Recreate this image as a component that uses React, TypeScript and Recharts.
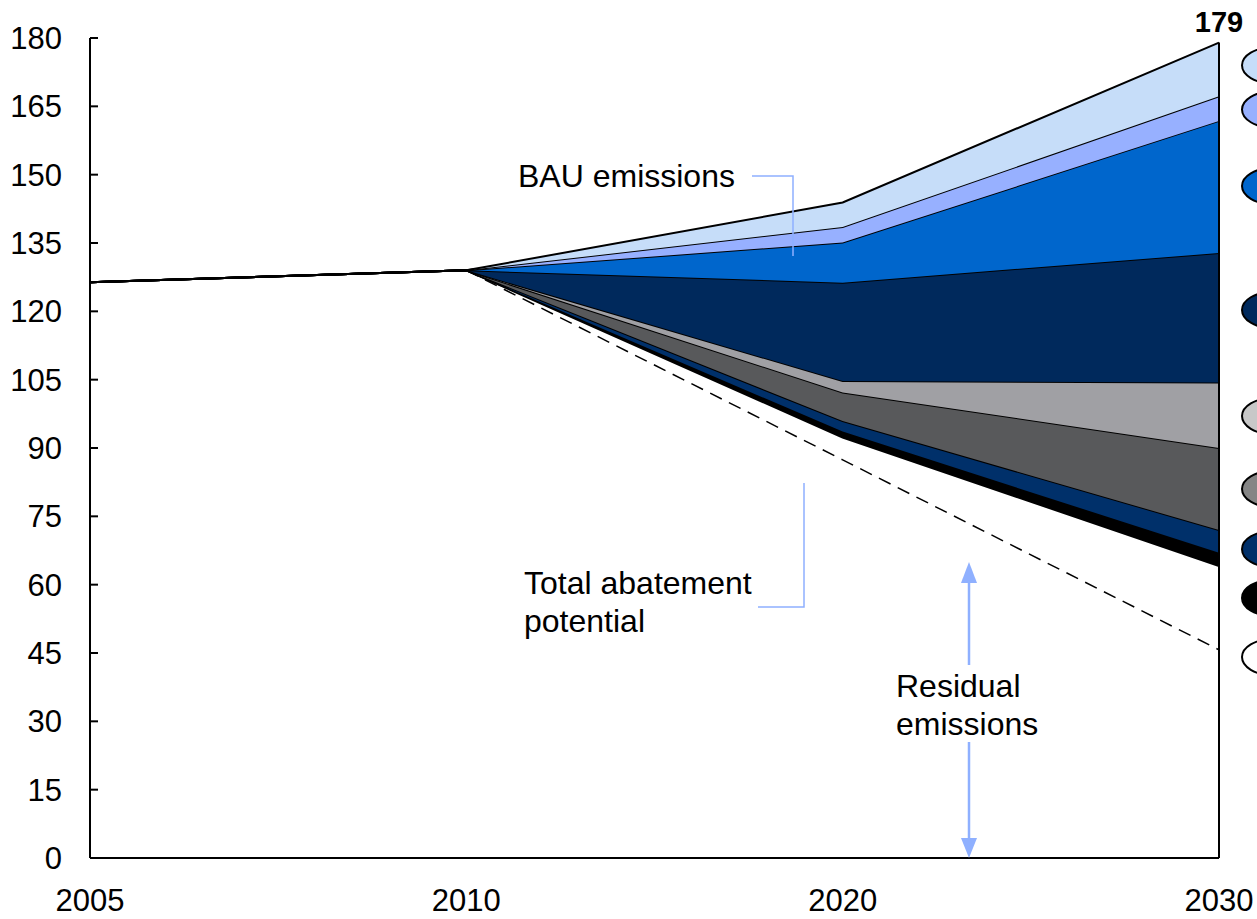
import { ComposedChart, Area, Line, XAxis, YAxis, ReferenceLine, ReferenceDot } from "recharts";

const years = ["2005", "2010", "2020", "2030"];
const residualEmissions = [126.4, 129, 92.3, 64.1];
const wedgeBlack = [0, 0, 1.3, 2.9];
const wedgeNavyLow = [0, 0, 2.3, 5.0];
const wedgeDarkGrey = [0, 0, 6.3, 18.0];
const wedgeLightGrey = [0, 0, 2.5, 14.4];
const wedgeNavy = [0, 0, 21.6, 28.4];
const wedgeBlue = [0, 0, 8.8, 29.0];
const wedgePeriwinkle = [0, 0, 3.4, 5.4];
const wedgePaleBlue = [0, 0, 5.4, 11.8];
const abatementPotential = [null, 129, 87.4, 45.7];
const yTicks = [0, 15, 30, 45, 60, 75, 90, 105, 120, 135, 150, 165, 180];
// where the legend ovals sit next to 2030, top to bottom
const legendMarkerValues = [174, 164.3, 147.5, 120.3, 97, 81, 67.8, 57.1, 44.1];
const legendMarkerFills = ["#c6ddf9", "#97b0ff", "#0066cc", "#00295c", "#c8c8c8", "#858585", "#00306a", "#000000", "#ffffff"];

const wedges = [
  { key: "black", values: wedgeBlack, fill: "#000000" },
  { key: "navyLow", values: wedgeNavyLow, fill: "#00306a" },
  { key: "darkGrey", values: wedgeDarkGrey, fill: "#58595b" },
  { key: "lightGrey", values: wedgeLightGrey, fill: "#a0a0a4" },
  { key: "navy", values: wedgeNavy, fill: "#00295c" },
  { key: "blue", values: wedgeBlue, fill: "#0066cc" },
  { key: "periwinkle", values: wedgePeriwinkle, fill: "#97b0ff" },
  { key: "paleBlue", values: wedgePaleBlue, fill: "#c6ddf9" },
];

const data = years.map((year, i) => {
  const row: Record<string, any> = { year, residual: residualEmissions[i], potential: abatementPotential[i] };
  wedges.forEach((w) => { row[w.key] = w.values[i]; });
  return row;
});

const last = years.length - 1;
const bauTotal = residualEmissions[last] + wedges.reduce((s, w) => s + w.values[last], 0);

const FONT = "'Liberation Sans', Arial, sans-serif";
const LEADER = "#8fb0ff";

function Annotations() {
  return (
    <svg width={1257} height={919} style={{ position: "absolute", left: 0, top: 0, pointerEvents: "none" }} fontFamily={FONT}>
      <text x={518} y={187} fontSize={32} fill="#000">BAU emissions</text>
      <polyline points="752,176 793,176 793,256" fill="none" stroke={LEADER} strokeWidth={1.5} />

      <text x={524} y={594} fontSize={32} fill="#000">Total abatement</text>
      <text x={524} y={632} fontSize={32} fill="#000">potential</text>
      <polyline points="758,607 804,607 804,483" fill="none" stroke={LEADER} strokeWidth={1.5} />

      <text x={896} y={697} fontSize={32} fill="#000">Residual</text>
      <text x={896} y={735} fontSize={32} fill="#000">emissions</text>
      <line x1={969} y1={580} x2={969} y2={665} stroke={LEADER} strokeWidth={2.5} />
      <line x1={969} y1={742} x2={969} y2={842} stroke={LEADER} strokeWidth={2.5} />
      <polygon points="961,583 969,562 977,583" fill={LEADER} />
      <polygon points="961,838 969,858 977,838" fill={LEADER} />
    </svg>
  );
}

export default function App() {
  return (
    <div style={{ position: "absolute", left: 0, top: 0, width: 1257, height: 919, overflow: "hidden", background: "#fff", fontFamily: FONT }}>
      <ComposedChart width={1257} height={919} data={data} margin={{ top: 38, right: 38, left: 0, bottom: 0 }}>
        <XAxis
          dataKey="year"
          scale="point"
          padding={{ left: 0, right: 0 }}
          height={61}
          axisLine={{ stroke: "#000", strokeWidth: 2 }}
          tickLine={false}
          tickSize={0}
          tickMargin={31}
          tick={{ fill: "#000", fontSize: 31, fontFamily: FONT }}
          interval={0}
        />
        <YAxis
          domain={[0, 180]}
          ticks={yTicks}
          width={90}
          axisLine={{ stroke: "#000", strokeWidth: 2 }}
          tickLine={{ stroke: "#000", strokeWidth: 2 }}
          tickSize={-8}
          tickMargin={36}
          tick={{ fill: "#000", fontSize: 31, fontFamily: FONT }}
          interval={0}
        />
        <Line dataKey="potential" stroke="#000" strokeWidth={1.5} strokeDasharray="13 8" dot={false} activeDot={false} isAnimationActive={false} />
        <Area dataKey="residual" stackId="bau" type="linear" fill="none" stroke="#000" strokeWidth={2} isAnimationActive={false} />
        {wedges.map((w) => (
          <Area key={w.key} dataKey={w.key} stackId="bau" type="linear" fill={w.fill} fillOpacity={1} stroke="#000" strokeWidth={2} isAnimationActive={false} />
        ))}
        <ReferenceLine segment={[{ x: "2030", y: 0 }, { x: "2030", y: bauTotal }]} stroke="#000" strokeWidth={2} ifOverflow="visible" />
        <ReferenceDot
          x="2030"
          y={bauTotal}
          r={0}
          ifOverflow="visible"
          label={{ value: Math.round(bauTotal).toString(), position: "top", offset: 11, fill: "#000", fontSize: 29, fontWeight: 700, fontFamily: FONT }}
        />
        {legendMarkerValues.map((v, i) => (
          <ReferenceDot
            key={i}
            x="2030"
            y={v}
            ifOverflow="visible"
            shape={(p: any) => <ellipse cx={p.cx + 53} cy={p.cy} rx={30} ry={18} fill={legendMarkerFills[i]} stroke="#000" strokeWidth={2} />}
          />
        ))}
      </ComposedChart>
      <Annotations />
    </div>
  );
}
